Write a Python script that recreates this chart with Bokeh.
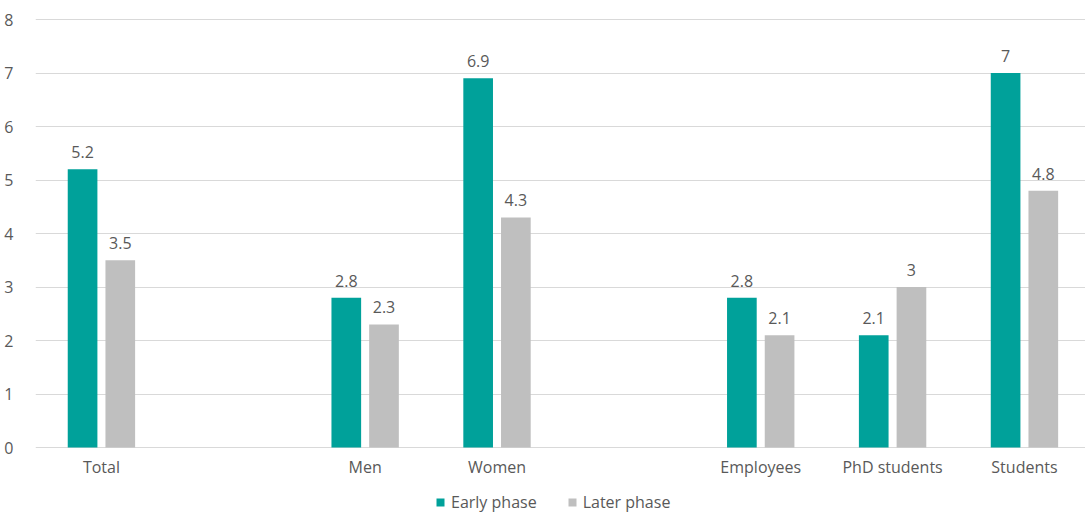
from bokeh.plotting import figure
from bokeh.models import ColumnDataSource, FixedTicker, Range1d, Legend, LegendItem, LabelSet
from bokeh.core.properties import value
from bokeh.embed import file_html
from bokeh.resources import INLINE

# Groups and their slot positions along the x axis (empty slots separate the blocks)
categories = ["Total", "Men", "Women", "Employees", "PhD students", "Students"]
slots = [0, 2, 3, 5, 6, 7]
early_phase = [5.2, 2.8, 6.9, 2.8, 2.1, 7.0]
later_phase = [3.5, 2.3, 4.3, 2.1, 3.0, 4.8]
y_ticks = [0, 1, 2, 3, 4, 5, 6, 7, 8]

TEAL = "#00A19A"
GREY = "#BFBFBF"
TEXT = "#595959"
FONT = "Open Sans"
FS = "16px"

bar_w = 0.225
offset = 0.143

def fmt(v):
    return ("%g" % v)

src_early = ColumnDataSource(dict(
    x=[s - offset for s in slots], top=early_phase,
    label=[fmt(v) for v in early_phase]))
src_later = ColumnDataSource(dict(
    x=[s + offset for s in slots], top=later_phase,
    label=[fmt(v) for v in later_phase]))
src_cats = ColumnDataSource(dict(x=slots, y=[0] * len(slots), label=categories))

# The plot area runs down to the bottom edge so the category names and the
# legend can sit beneath the zero line; only 0..8 carries grid lines.
p = figure(width=1085, height=513, output_backend="svg", toolbar_location=None,
           x_range=Range1d(-0.5, 7.463), y_range=Range1d(-1.2336, 8.0187),
           min_border_left=35, min_border_right=0, min_border_top=18,
           min_border_bottom=0)
p.outline_line_color = None
p.background_fill_color = "white"
p.border_fill_color = "white"

r1 = p.vbar(x="x", top="top", width=bar_w, source=src_early, color=TEAL, line_color=None)
r2 = p.vbar(x="x", top="top", width=bar_w, source=src_later, color=GREY, line_color=None)

for src in (src_early, src_later):
    p.add_layout(LabelSet(x="x", y="top", text="label", source=src,
                          text_align="center", text_baseline="middle",
                          y_offset=17, text_font=value(FONT), text_font_size=FS,
                          text_color=TEXT))

# Category names under each group
p.add_layout(LabelSet(x="x", y="y", text="label", source=src_cats,
                      text_align="center", text_baseline="middle",
                      y_offset=-19, text_font=value(FONT), text_font_size=FS,
                      text_color=TEXT))

p.xaxis.visible = False

p.yaxis.ticker = FixedTicker(ticks=y_ticks)
p.yaxis.axis_line_color = None
p.yaxis.major_tick_line_color = None
p.yaxis.minor_tick_line_color = None
p.yaxis.major_label_text_font = FONT
p.yaxis.major_label_text_font_size = FS
p.yaxis.major_label_text_color = TEXT
p.yaxis.major_label_standoff = 16

p.xgrid.grid_line_color = None
p.ygrid.ticker = FixedTicker(ticks=y_ticks)
p.ygrid.grid_line_color = "#D9D9D9"
p.ygrid.grid_line_width = 1
p.ygrid.level = "underlay"

legend = Legend(items=[LegendItem(label="Early phase", renderers=[r1]),
                       LegendItem(label="Later phase", renderers=[r2])],
                orientation="horizontal", location=(400, 0),
                label_text_font=FONT, label_text_font_size=FS,
                label_text_color=TEXT, glyph_width=10, glyph_height=10,
                spacing=30, padding=0, margin=0, border_line_color=None,
                background_fill_alpha=0, label_standoff=6)
p.add_layout(legend, "center")

open("out.html", "w").write(file_html(p, INLINE))
